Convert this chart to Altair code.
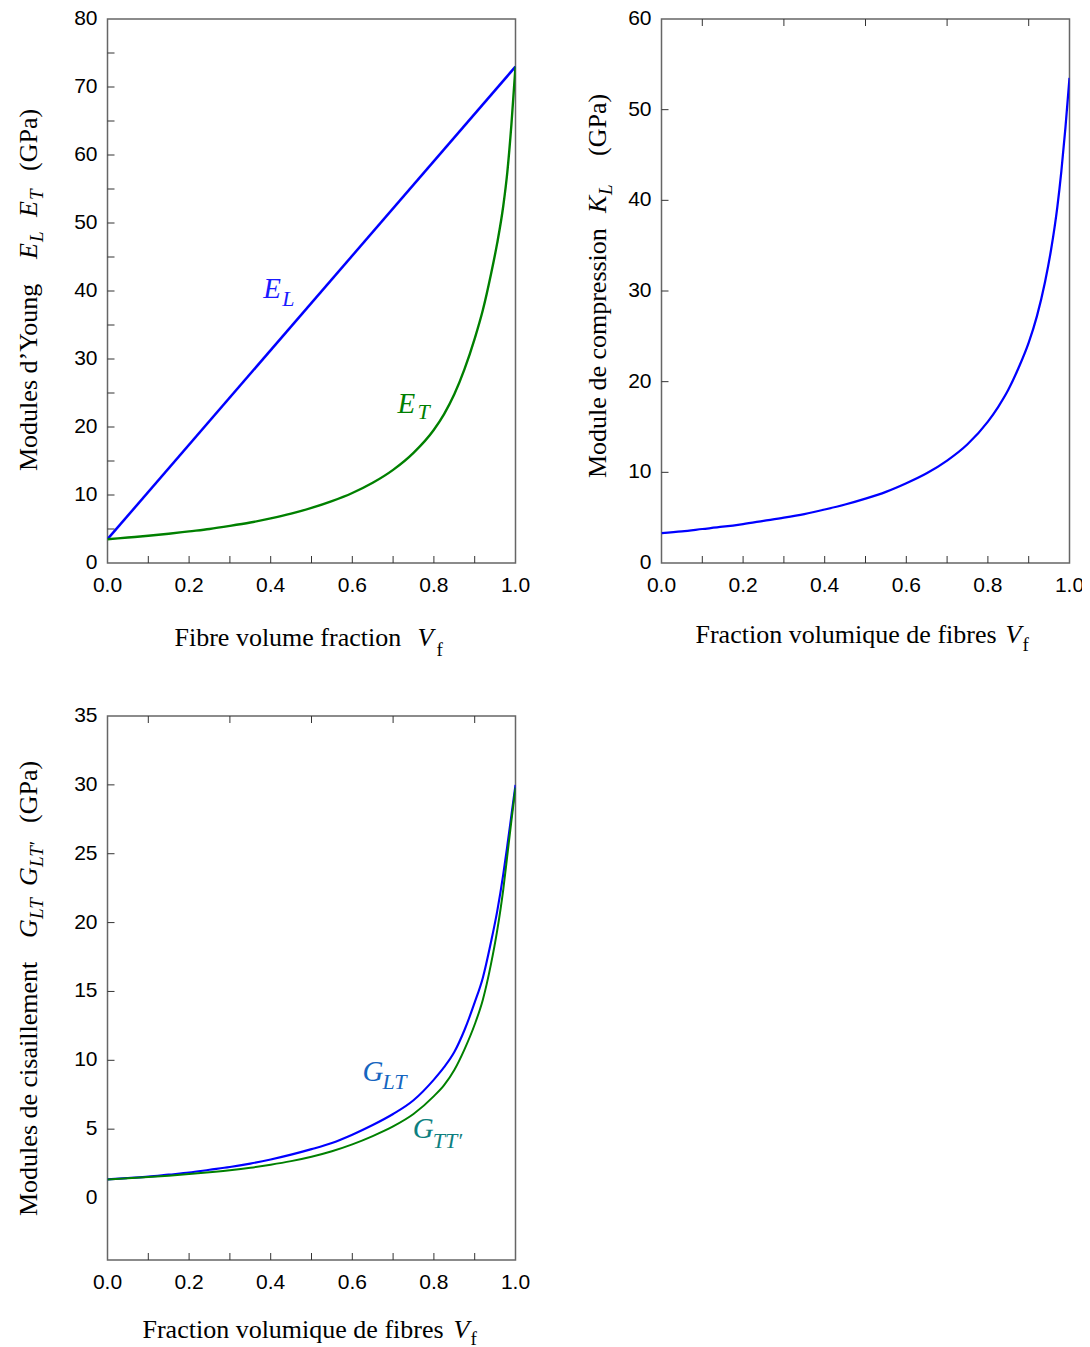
import altair as alt
import pandas as pd

# ---------------- data ----------------
vf = [0.0, 0.05, 0.1, 0.15, 0.2, 0.25, 0.3, 0.35, 0.4, 0.45, 0.5, 0.55, 0.6,
      0.65, 0.7, 0.75, 0.8, 0.825, 0.85, 0.875, 0.9, 0.92, 0.94, 0.955, 0.97,
      0.98, 0.99, 1.0]

EL_vf = [0.0, 1.0]
E_L = [3.5, 73.0]
E_T = [3.5, 3.75, 4.0, 4.3, 4.65, 5.0, 5.45, 5.95, 6.55, 7.25, 8.1, 9.1, 10.3,
       11.8, 13.7, 16.2, 19.6, 21.9, 24.8, 28.5, 33.0, 37.2, 42.5, 47.0, 52.5,
       57.5, 64.5, 73.0]

K_L = [3.3, 3.5, 3.75, 4.0, 4.3, 4.65, 5.0, 5.4, 5.9, 6.45, 7.1, 7.85, 8.8,
       9.9, 11.3, 13.1, 15.6, 17.2, 19.1, 21.5, 24.3, 27.2, 31.0, 34.6, 39.2,
       43.2, 48.0, 53.5]

G_LT = [1.35, 1.45, 1.55, 1.7, 1.85, 2.05, 2.25, 2.5, 2.8, 3.15, 3.55, 4.0, 4.6,
        5.3, 6.1, 7.1, 8.6, 9.5, 10.6, 12.2, 14.2, 16.0, 18.6, 20.8, 23.5,
        25.6, 27.8, 30.0]
G_TT = [1.35, 1.43, 1.52, 1.62, 1.74, 1.87, 2.02, 2.2, 2.42, 2.68, 3.0, 3.4, 3.9,
        4.5, 5.2, 6.1, 7.4, 8.2, 9.3, 10.8, 12.6, 14.4, 17.0, 19.4, 22.4,
        24.9, 27.4, 29.8]

x_labels = [0.0, 0.2, 0.4, 0.6, 0.8, 1.0]
x_ticks = [0.1, 0.2, 0.3, 0.4, 0.5, 0.6, 0.7, 0.8, 0.9]
x_ticks_top = [0.1, 0.3, 0.5, 0.7, 0.9]

y1_labels = [0, 10, 20, 30, 40, 50, 60, 70, 80]
y1_ticks = [5, 10, 15, 20, 25, 30, 35, 40, 45, 50, 55, 60, 65, 70, 75]
y2_labels = [0, 10, 20, 30, 40, 50, 60]
y2_ticks = [10, 20, 30, 40, 50]
y3_labels = [0, 5, 10, 15, 20, 25, 30, 35]
y3_ticks = [5, 10, 15, 20, 25, 30]

series_names = ["E_L", "E_T", "K_L", "G_LT", "G_TT"]
series_colors = ["#0000ff", "#008000", "#0000ff", "#0000ff", "#008000"]
series_widths = [2.5, 2.0, 1.6, 1.0, 2.0]

# ---------------- styles ----------------
SERIF = "Liberation Serif"
SANS = "Liberation Sans"
W, H = 408, 544
TICK = 7
TF = 26      # title font size
SF = 19      # subscript size in titles
LF = 21      # tick label font size


def lines(df, ydom):
    return alt.Chart(df).mark_line(clip=True, interpolate="monotone").encode(
        x=alt.X("vf:Q", scale=alt.Scale(domain=[0, 1], nice=False, zero=False), axis=None),
        y=alt.Y("val:Q", scale=alt.Scale(domain=ydom, nice=False, zero=False), axis=None),
        color=alt.Color("s:N", scale=alt.Scale(domain=series_names, range=series_colors),
                        legend=None),
        strokeWidth=alt.StrokeWidth("s:N", scale=alt.Scale(domain=series_names,
                                                          range=series_widths),
                                    legend=None),
        order=alt.Order("vf:Q"),
    )


def ticks_bottom(vals):
    return alt.Chart(pd.DataFrame({"t": vals})).mark_rule(color="#333", strokeWidth=1).encode(
        x=alt.X("t:Q", axis=None), y=alt.value(H), y2=alt.value(H - TICK))


def ticks_top(vals):
    return alt.Chart(pd.DataFrame({"t": vals})).mark_rule(color="#333", strokeWidth=1).encode(
        x=alt.X("t:Q", axis=None), y=alt.value(0), y2=alt.value(TICK))


def ticks_left(vals):
    return alt.Chart(pd.DataFrame({"t": vals})).mark_rule(color="#333", strokeWidth=1).encode(
        y=alt.Y("t:Q", axis=None), x=alt.value(0), x2=alt.value(TICK))


def labels_x(vals):
    return alt.Chart(pd.DataFrame({"t": vals})).mark_text(
        font=SANS, fontSize=LF, align="center", baseline="top", color="black").encode(
        x=alt.X("t:Q", axis=None), y=alt.value(H + 12), text=alt.Text("t:Q", format=".1f"))


def labels_y(vals):
    return alt.Chart(pd.DataFrame({"t": vals})).mark_text(
        font=SANS, fontSize=LF, align="right", baseline="middle", color="black").encode(
        y=alt.Y("t:Q", axis=None), x=alt.value(-10), text=alt.Text("t:Q", format="d"))


def txt(s, x, y, size=TF, italic=False, angle=0, color="black", font=SERIF):
    kw = dict(text=s, font=font, fontSize=size, fontStyle="italic" if italic else "normal",
              align="left", baseline="alphabetic", color=color)
    if angle:
        kw["angle"] = angle
    return alt.Chart(alt.Data(values=[{}])).mark_text(**kw).encode(
        x=alt.value(x), y=alt.value(y))


def dlabel(s, xv, yv, size, color, dx=0, dy=0):
    return alt.Chart(alt.Data(values=[{}])).mark_text(
        text=s, font=SERIF, fontSize=size, fontStyle="italic", align="left",
        baseline="alphabetic", color=color, dx=dx, dy=dy).encode(
        x=alt.XDatum(xv, axis=None), y=alt.YDatum(yv, axis=None))


# ---------------- panel 1 ----------------
df1 = pd.concat([
    pd.DataFrame({"vf": EL_vf, "val": E_L, "s": "E_L"}),
    pd.DataFrame({"vf": vf, "val": E_T, "s": "E_T"}),
])
p1 = alt.layer(
    lines(df1, [0, 80]),
    ticks_bottom(x_ticks), ticks_left(y1_ticks),
    labels_x(x_labels), labels_y(y1_labels),
    dlabel("E", 0.382, 38.9, 29, "#1a1aff"),
    dlabel("L", 0.382, 38.9, 22, "#1a1aff", dx=19, dy=8),
    dlabel("E", 0.711, 22.0, 29, "#008000"),
    dlabel("T", 0.711, 22.0, 22, "#008000", dx=20, dy=6),
    txt("Modules d\u2019Young", -71, 452, angle=270),
    txt("E", -71, 240, italic=True, angle=270),
    txt("L", -65, 223, size=SF, italic=True, angle=270),
    txt("E", -71, 198, italic=True, angle=270),
    txt("T", -65, 181, size=SF, italic=True, angle=270),
    txt("(GPa)", -71, 152, angle=270),
    txt("Fibre volume fraction", 67, 627),
    txt("V", 310, 627, italic=True),
    txt("f", 329, 637, size=SF),
).properties(width=W, height=H)

# ---------------- panel 2 ----------------
df2 = pd.DataFrame({"vf": vf, "val": K_L, "s": "K_L"})
p2 = alt.layer(
    lines(df2, [0, 60]),
    ticks_bottom(x_ticks), ticks_top(x_ticks_top), ticks_left(y2_ticks),
    labels_x(x_labels), labels_y(y2_labels),
    txt("Module de compression", -56, 459, angle=270),
    txt("K", -56, 194, italic=True, angle=270),
    txt("L", -50, 176, size=SF, italic=True, angle=270),
    txt("(GPa)", -56, 137, angle=270),
    txt("Fraction volumique de fibres", 34, 624),
    txt("V", 344, 624, italic=True),
    txt("f", 361, 632, size=SF),
).properties(width=W, height=H)

# ---------------- panel 3 ----------------
df3 = pd.concat([
    pd.DataFrame({"vf": vf, "val": G_LT, "s": "G_LT"}),
    pd.DataFrame({"vf": vf, "val": G_TT, "s": "G_TT"}),
])
p3 = alt.layer(
    lines(df3, [-4.5, 35]),
    ticks_bottom(x_ticks), ticks_top(x_ticks_top), ticks_left(y3_ticks),
    labels_x(x_labels), labels_y(y3_labels),
    dlabel("G", 0.625, 8.5, 29, "#1565c0"),
    dlabel("LT", 0.625, 8.5, 22, "#1565c0", dx=20, dy=8),
    dlabel("G", 0.748, 4.36, 29, "#0e7f7f"),
    dlabel("TT\u2032", 0.748, 4.36, 22, "#0e7f7f", dx=20, dy=10),
    txt("Modules de cisaillement", -71, 500, angle=270),
    txt("G", -71, 222, italic=True, angle=270),
    txt("LT", -65, 203, size=SF, italic=True, angle=270),
    txt("G", -71, 170, italic=True, angle=270),
    txt("LT\u2032", -65, 151, size=SF, italic=True, angle=270),
    txt("(GPa)", -71, 107, angle=270),
    txt("Fraction volumique de fibres", 35, 622),
    txt("V", 346, 622, italic=True),
    txt("f", 363, 629, size=SF),
).properties(width=W, height=H)

chart = alt.concat(
    p1, p2, p3, columns=2, spacing={"row": 153, "column": 146}, bounds="flush",
    padding={"left": 6.5, "top": -1, "right": -4, "bottom": 0},
).configure_view(stroke="#666666", strokeWidth=1.5)

chart.save("out.html", embed_options={"renderer": "svg", "actions": False})
